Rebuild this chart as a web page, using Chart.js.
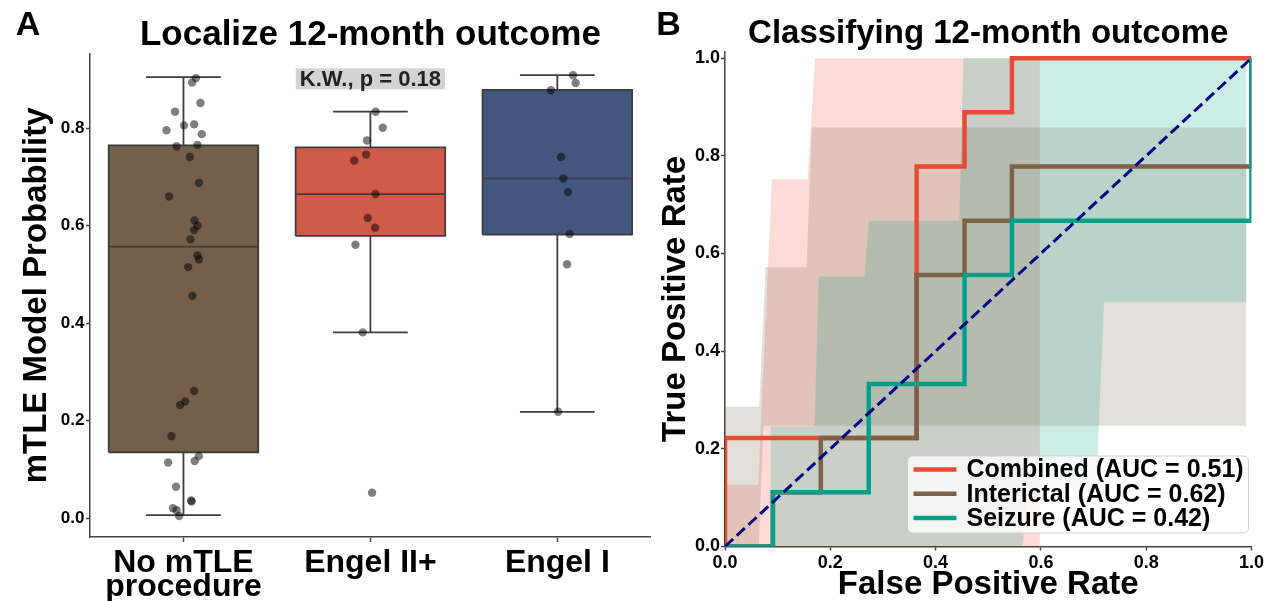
<!DOCTYPE html>
<html><head><meta charset="utf-8">
<script src="https://cdn.jsdelivr.net/npm/chart.js@4.4.1/dist/chart.umd.min.js"></script>
<style>
html,body{margin:0;padding:0;background:#fff;}
#wrap{position:relative;width:1266px;height:601px;overflow:hidden;background:#fff;}
#c1{position:absolute;left:0;top:0;}
#c2{position:absolute;left:655px;top:0;}
</style></head><body>
<div id="wrap">
<canvas id="c1" width="655" height="601"></canvas>
<canvas id="c2" width="611" height="601"></canvas>
</div>
<script>
// ===== Panel A: Localize 12-month outcome =====
const categories = [["No mTLE", "procedure"], "Engel II+", "Engel I"];
const boxLow    = [0.006, 0.381, 0.218];
const boxQ1     = [0.135, 0.579, 0.582];
const boxMedian = [0.557, 0.665, 0.697];
const boxQ3     = [0.765, 0.761, 0.879];
const boxHigh   = [0.905, 0.834, 0.909];
const noMtleValues = [0.903,0.894,0.852,0.834,0.806,0.808,0.796,0.788,0.763,0.766,0.741,0.688,0.660,0.611,0.600,0.591,0.572,0.539,0.531,0.515,0.456,0.261,0.239,0.232,0.168,0.127,0.117,0.114,0.064,0.036,0.034,0.020,0.016,0.004];
const noMtleJitter = [0.067,0.046,0.091,-0.045,0.003,0.057,-0.091,0.098,-0.037,0.075,0.034,0.083,-0.077,0.059,0.075,0.057,0.037,0.075,0.083,0.025,0.048,0.057,0.009,-0.018,-0.064,0.082,0.060,-0.082,-0.040,0.041,0.044,-0.056,-0.037,-0.023];
const engel2Values = [0.834,0.801,0.775,0.746,0.734,0.665,0.616,0.596,0.561,0.381,0.052];
const engel2Jitter = [0.028,0.066,-0.018,-0.023,-0.087,0.027,-0.014,0.025,-0.080,-0.041,0.009];
const engel1Values = [0.909,0.893,0.878,0.741,0.697,0.669,0.583,0.521,0.218];
const engel1Jitter = [0.084,0.098,-0.034,0.020,0.032,0.057,0.066,0.052,0.004];
const probTicks = [0, 0.2, 0.4, 0.6, 0.8];
const kwText = "K.W., p = 0.18";

// ===== Panel B: Classifying 12-month outcome =====
const rocNames = ["Combined", "Interictal", "Seizure"];
const rocAUC = [0.51, 0.62, 0.42];
const combinedFPR = [0, 0, 0.364, 0.364, 0.455, 0.455, 0.545, 0.545, 1];
const combinedTPR = [0, 0.222, 0.222, 0.778, 0.778, 0.889, 0.889, 1, 1];
const interictalFPR = [0, 0.091, 0.091, 0.182, 0.182, 0.364, 0.364, 0.455, 0.455, 0.545, 0.545, 1, 1];
const interictalTPR = [0, 0, 0.111, 0.111, 0.222, 0.222, 0.556, 0.556, 0.667, 0.667, 0.778, 0.778, 1];
const seizureFPR = [0, 0.091, 0.091, 0.273, 0.273, 0.455, 0.455, 0.545, 0.545, 1, 1];
const seizureTPR = [0, 0, 0.111, 0.111, 0.333, 0.333, 0.556, 0.556, 0.667, 0.667, 1];
const chanceFPR = [0, 1];
const chanceTPR = [0, 1];
// confidence bands (upper / lower edges)
const combinedUpperFPR = [0, 0.063, 0.089, 0.157, 0.171, 0.598];
const combinedUpperTPR = [0.126, 0.126, 0.752, 0.752, 1.0, 1.0];
const combinedLowerFPR = [0, 0.598];
const combinedLowerTPR = [0, 0];
const interictalUpperFPR = [0, 0.065, 0.077, 0.155, 0.165, 0.99];
const interictalUpperTPR = [0.286, 0.286, 0.572, 0.572, 0.858, 0.858];
const interictalLowerFPR = [0, 0.064, 0.073, 0.99];
const interictalLowerTPR = [0, 0, 0.247, 0.247];
const seizureUpperFPR = [0.087, 0.170, 0.178, 0.265, 0.273, 0.445, 0.453, 0.99];
const seizureUpperTPR = [0.246, 0.246, 0.553, 0.553, 0.667, 0.667, 1.0, 1.0];
const seizureLowerFPR = [0.087, 0.565, 0.575, 0.705, 0.72, 0.99];
const seizureLowerTPR = [0, 0, 0.12, 0.12, 0.5, 0.5];
const rateTicks = [0, 0.2, 0.4, 0.6, 0.8, 1.0];

// ===== styles =====
Chart.defaults.font.family = '"Liberation Sans", Arial, Helvetica, sans-serif';
Chart.defaults.font.weight = 'bold';
Chart.defaults.color = '#000';
const FONT = '"Liberation Sans", Arial, Helvetica, sans-serif';
const AXIS = '#444444';
const BOX_HALF = 0.4, CAP_HALF = 0.2;
const boxColors = ['#745F4B', '#D05B4B', '#45567E'];
const boxEdge = '#3d3d3d';
const rocColors = ['#E64B35', '#7E6148', '#00A087'];
const bandColors = ['rgba(230,75,53,0.2)', 'rgba(126,97,72,0.2)', 'rgba(0,160,135,0.2)'];

const zip = (xs, ys) => xs.map((x, i) => ({x: x, y: ys[i]}));
const seg = (x1, y1, x2, y2) => [{x: x1, y: y1}, {x: x2, y: y2}];
const lineDs = (data, color, width, order, extra) => Object.assign({
  data, showLine: true, borderColor: color, borderWidth: width, pointRadius: 0,
  pointHoverRadius: 0, fill: false, order, tension: 0
}, extra || {});

// ---- Panel A datasets ----
const aDatasets = [];
const pointSets = [[noMtleValues, noMtleJitter], [engel2Values, engel2Jitter], [engel1Values, engel1Jitter]];
categories.forEach((c, i) => {
  aDatasets.push(lineDs([
    {x: i - BOX_HALF, y: boxQ1[i]}, {x: i + BOX_HALF, y: boxQ1[i]},
    {x: i + BOX_HALF, y: boxQ3[i]}, {x: i - BOX_HALF, y: boxQ3[i]},
    {x: i - BOX_HALF, y: boxQ1[i]}], boxEdge, 1.8, 30,
    {fill: 'shape', backgroundColor: boxColors[i], borderJoinStyle: 'miter'}));
  aDatasets.push(lineDs(seg(i - BOX_HALF, boxMedian[i], i + BOX_HALF, boxMedian[i]), boxEdge, 1.8, 20));
  aDatasets.push(lineDs(seg(i, boxQ3[i], i, boxHigh[i]), boxEdge, 1.8, 20));
  aDatasets.push(lineDs(seg(i, boxQ1[i], i, boxLow[i]), boxEdge, 1.8, 20));
  aDatasets.push(lineDs(seg(i - CAP_HALF, boxHigh[i], i + CAP_HALF, boxHigh[i]), boxEdge, 1.8, 20));
  aDatasets.push(lineDs(seg(i - CAP_HALF, boxLow[i], i + CAP_HALF, boxLow[i]), boxEdge, 1.8, 20));
  const [vals, jit] = pointSets[i];
  aDatasets.push({
    data: vals.map((v, j) => ({x: i + jit[j], y: v})),
    showLine: false, pointRadius: 4.2, pointHoverRadius: 4.2,
    backgroundColor: 'rgba(0,0,0,0.5)', borderWidth: 0, order: 0
  });
});

const panelLabel = (txt, x, y) => ({
  id: 'panel' + txt,
  afterDraw(chart) {
    const ctx = chart.ctx;
    ctx.save();
    ctx.font = 'bold 34px ' + FONT;
    ctx.fillStyle = '#000';
    ctx.textAlign = 'center';
    ctx.textBaseline = 'middle';
    ctx.fillText(txt, x, y);
    ctx.restore();
  }
});

const kwPlugin = {
  id: 'kwAnnot',
  afterDraw(chart) {
    const ctx = chart.ctx;
    const cx = chart.scales.x.getPixelForValue(1);
    const cy = chart.scales.y.getPixelForValue(0.9015);
    ctx.save();
    ctx.font = 'bold 22px ' + FONT;
    const w = ctx.measureText(kwText).width + 8;
    ctx.fillStyle = '#d3d3d3';
    ctx.fillRect(cx - w / 2, cy - 10.5, w, 21);
    ctx.fillStyle = '#222';
    ctx.textAlign = 'center';
    ctx.textBaseline = 'middle';
    ctx.fillText(kwText, cx, cy + 1);
    ctx.restore();
  }
};

new Chart(document.getElementById('c1'), {
  type: 'scatter',
  data: {datasets: aDatasets},
  options: {
    responsive: false, animation: false, events: [],
    layout: {padding: {left: 0, right: 3, top: 0, bottom: 0}},
    plugins: {
      legend: {display: false}, tooltip: {enabled: false},
      title: {display: true, text: 'Localize 12-month outcome', fullSize: false, color: '#000',
        font: {size: 35, weight: 'bold', lineHeight: 1.05}, padding: {top: 17, bottom: 0}}
    },
    scales: {
      x: {
        type: 'linear', min: -0.5, max: 2.5,
        afterBuildTicks: s => { s.ticks = categories.map((c, i) => ({value: i})); },
        afterFit: s => { s.height = 64; },
        ticks: {callback: v => categories[Math.round(v)], font: {size: 32, weight: 'bold', lineHeight: 0.75},
          color: '#000', padding: 9, maxRotation: 0, minRotation: 0, autoSkip: false},
        grid: {display: true, drawOnChartArea: false, drawTicks: true, tickLength: 5, tickColor: AXIS, tickWidth: 1.5, color: AXIS},
        border: {display: true, color: AXIS, width: 1.5}
      },
      y: {
        type: 'linear', min: -0.039, max: 0.953,
        afterBuildTicks: s => { s.ticks = probTicks.map(v => ({value: v})); },
        afterFit: s => { s.width = 90; },
        ticks: {callback: v => v.toFixed(1), font: {size: 17, weight: 'bold'}, color: '#000', padding: 1.5},
        grid: {display: true, drawOnChartArea: false, drawTicks: true, tickLength: 4, tickColor: AXIS, tickWidth: 1.5, color: AXIS},
        border: {display: true, color: AXIS, width: 1.5},
        title: {display: true, text: 'mTLE Model Probability', color: '#000',
          font: {size: 33, weight: 'bold', lineHeight: 1.2}, padding: {top: 17, bottom: 0}}
      }
    }
  },
  plugins: [kwPlugin, panelLabel('A', 28, 26)]
});

// ---- Panel B datasets ----
function bandPolygon(ux, uy, lx, ly) {
  const pts = zip(ux, uy);
  for (let i = lx.length - 1; i >= 0; i--) pts.push({x: lx[i], y: ly[i]});
  return pts;
}
const bands = [
  bandPolygon(combinedUpperFPR, combinedUpperTPR, combinedLowerFPR, combinedLowerTPR),
  bandPolygon(interictalUpperFPR, interictalUpperTPR, interictalLowerFPR, interictalLowerTPR),
  bandPolygon(seizureUpperFPR, seizureUpperTPR, seizureLowerFPR, seizureLowerTPR)
];
const rocLines = [zip(combinedFPR, combinedTPR), zip(interictalFPR, interictalTPR), zip(seizureFPR, seizureTPR)];
const bDatasets = [];
bands.forEach((b, i) => bDatasets.push(lineDs(b, 'rgba(0,0,0,0)', 0, 40 - i,
  {fill: 'shape', backgroundColor: bandColors[i]})));
rocLines.forEach((l, i) => bDatasets.push(lineDs(l, rocColors[i], 4.5, 10 - i,
  {clip: 0, borderJoinStyle: 'miter', label: rocNames[i]})));
bDatasets.push(lineDs(zip(chanceFPR, chanceTPR), '#000080', 3, 0, {borderDash: [11, 5], clip: 0}));

const rocLegend = {
  id: 'rocLegend',
  afterDatasetsDraw(chart) {
    const {ctx, chartArea} = chart;
    const w = 341, h = 77;
    const x0 = chartArea.right - 3 - w, y0 = chartArea.bottom - 13.5 - h;
    ctx.save();
    ctx.beginPath();
    if (ctx.roundRect) ctx.roundRect(x0, y0, w, h, 5); else ctx.rect(x0, y0, w, h);
    ctx.fillStyle = 'rgba(255,255,255,0.8)';
    ctx.fill();
    ctx.strokeStyle = '#d0d0d0';
    ctx.lineWidth = 1;
    ctx.stroke();
    ctx.font = 'bold 25px ' + FONT;
    ctx.textBaseline = 'middle';
    ctx.textAlign = 'left';
    rocNames.forEach((n, i) => {
      const y = y0 + 13.5 + i * 24.3;
      ctx.strokeStyle = rocColors[i];
      ctx.lineWidth = 4.5;
      ctx.beginPath();
      ctx.moveTo(x0 + 6, y);
      ctx.lineTo(x0 + 49, y);
      ctx.stroke();
      ctx.fillStyle = '#000';
      ctx.fillText(n + ' (AUC = ' + rocAUC[i].toFixed(2) + ')', x0 + 59, y + 1);
    });
    ctx.restore();
  }
};

new Chart(document.getElementById('c2'), {
  type: 'scatter',
  data: {datasets: bDatasets},
  options: {
    responsive: false, animation: false, events: [],
    layout: {padding: {left: 0, right: 14, top: 0, bottom: 0}},
    plugins: {
      legend: {display: false}, tooltip: {enabled: false},
      title: {display: true, text: 'Classifying 12-month outcome', fullSize: false, color: '#000',
        font: {size: 33, weight: 'bold', lineHeight: 1.0}, padding: {top: 17, bottom: 1.3}}
    },
    scales: {
      x: {
        type: 'linear', min: 0, max: 1,
        afterBuildTicks: s => { s.ticks = rateTicks.map(v => ({value: v})); },
        afterFit: s => { s.height = 54.5; },
        ticks: {callback: v => v.toFixed(1), font: {size: 18, weight: 'bold'}, color: '#000', padding: 2, maxRotation: 0, autoSkip: false},
        grid: {display: true, drawOnChartArea: false, drawTicks: true, tickLength: 4, tickColor: AXIS, tickWidth: 1.5, color: AXIS},
        border: {display: true, color: AXIS, width: 1.5},
        title: {display: true, text: 'False Positive Rate', color: '#000',
          font: {size: 33, weight: 'bold', lineHeight: 1.0}, padding: {top: 0, bottom: 0}}
      },
      y: {
        type: 'linear', min: 0, max: 1.014,
        afterBuildTicks: s => { s.ticks = rateTicks.map(v => ({value: v})); },
        afterFit: s => { s.width = 70; },
        ticks: {callback: v => v.toFixed(1), font: {size: 18, weight: 'bold'}, color: '#000', padding: 1},
        grid: {display: true, drawOnChartArea: false, drawTicks: true, tickLength: 4, tickColor: AXIS, tickWidth: 1.5, color: AXIS},
        border: {display: true, color: AXIS, width: 1.5},
        title: {display: true, text: 'True Positive Rate', color: '#000',
          font: {size: 33, weight: 'bold', lineHeight: 1.2}, padding: {top: 1, bottom: 0}}
      }
    }
  },
  plugins: [rocLegend, panelLabel('B', 13.5, 26)]
});
</script>
</body></html>
